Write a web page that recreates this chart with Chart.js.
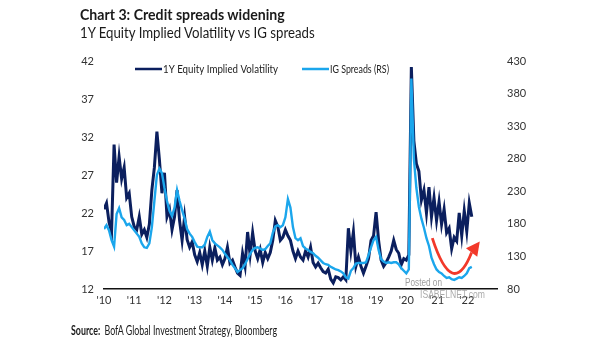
<!DOCTYPE html>
<html>
<head>
<meta charset="utf-8">
<script src="https://cdn.jsdelivr.net/npm/chart.js@4.4.1/dist/chart.umd.min.js"></script>
<style>
	html, body { margin: 0; padding: 0; background: #fff; }
	#wrap { position: relative; width: 605px; height: 341px; overflow: hidden; }
	#chart { position: absolute; left: 0; top: 0; }
	.txt { position: absolute; white-space: nowrap; color: #1a1a1a; font-family: Lato, 'Open Sans', sans-serif; line-height: 1.2; transform-origin: 0 0; }
	#title { left: 80px; top: 5px; font-size: 15.5px; font-weight: bold; }
	#subtitle { left: 80px; top: 24px; font-size: 14.5px; }
	#source { left: 71px; top: 323px; font-size: 13px; }
	#source b { margin-right: 3px; }
</style>
</head>
<body>
<div id="wrap">
	<canvas id="chart" width="605" height="341"></canvas>
	<div class="txt" id="title">Chart 3: Credit spreads widening</div>
	<div class="txt" id="subtitle">1Y Equity Implied Volatility vs IG spreads</div>
	<div class="txt" id="source"><b>Source:</b> BofA Global Investment Strategy, Bloomberg</div>
</div>
<script>
const FONT = "Lato, 'Open Sans', sans-serif"

// Monthly readings, Jan 2010 to Mar 2022.
const startYear = 2010

const equityVol = [
	22.5, 23.3, 20.8, 19.5, 31.0, 26.0, 29.4, 26.5, 28.0, 24.0, 24.6, 21.5, // 2010
	20.2, 19.8, 21.5, 19.2, 19.8, 18.8, 20.5, 25.0, 28.0, 32.7, 29.0, 24.6, // 2011
	27.3, 21.5, 22.5, 19.8, 21.5, 25.0, 21.0, 18.4, 21.5, 18.5, 17.5, 18.2, // 2012
	16.5, 15.6, 16.8, 15.2, 17.0, 15.0, 17.5, 15.8, 17.4, 15.8, 16.2, 15.2, // 2013
	16.0, 17.5, 15.4, 15.8, 14.9, 14.1, 13.8, 16.7, 15.0, 19.5, 16.5, 19.4, // 2014
	17.0, 16.0, 17.2, 15.5, 16.8, 16.0, 16.8, 18.4, 21.0, 20.2, 18.4, 18.8, // 2015
	19.8, 19.0, 18.4, 17.0, 16.0, 17.0, 16.2, 15.8, 17.0, 16.2, 17.5, 15.5, // 2016
	14.9, 15.4, 14.8, 14.3, 14.1, 14.6, 13.3, 12.8, 13.6, 13.5, 13.2, 13.6, // 2017
	13.2, 20.0, 17.0, 19.5, 15.0, 16.2, 15.0, 14.1, 15.0, 16.0, 18.4, 19.0, // 2018
	22.1, 18.4, 15.8, 15.0, 15.5, 16.2, 17.0, 18.4, 17.2, 16.7, 15.2, 16.0, // 2019
	15.8, 16.5, 41.2, 31.5, 28.5, 27.5, 23.7, 25.0, 22.0, 25.4, 21.5, 24.0, // 2020
	21.0, 23.5, 20.5, 22.5, 19.4, 20.0, 17.3, 18.8, 18.3, 22.0, 19.0, 22.3, // 2021
	19.6, 23.3, 21.5, // 2022
]

const igSpreads = [
	172, 178, 170, 155, 145, 195, 204, 190, 186, 178, 180, 175, // 2010
	170, 165, 160, 150, 144, 143, 150, 175, 215, 255, 265, 258, // 2011
	235, 215, 200, 192, 205, 232, 215, 201, 188, 172, 165, 160, // 2012
	152, 145, 144, 144, 148, 160, 168, 155, 150, 147, 144, 140, // 2013
	134, 129, 124, 117, 112, 106, 109, 112, 118, 126, 134, 140, // 2014
	143, 144, 142, 140, 141, 146, 150, 166, 176, 178, 175, 178, // 2015
	190, 218, 205, 175, 158, 155, 158, 146, 142, 140, 137, 135, // 2016
	131, 128, 124, 120, 118, 117, 114, 112, 110, 109, 107, 104, // 2017
	98, 96, 108, 112, 119, 120, 120, 120, 121, 132, 144, 155, // 2018
	160, 140, 126, 122, 120, 121, 120, 121, 121, 118, 112, 108, // 2019
	104, 110, 403, 280, 235, 206, 188, 174, 158, 146, 128, 118, // 2020
	110, 106, 104, 100, 97, 98, 95, 94, 96, 98, 97, 100, // 2021
	104, 112, 114, // 2022
]

const leftTicks = { min: 12, max: 42, step: 5 }
const rightTicks = { min: 80, max: 430, step: 50 }
const yearRange = { min: 2010, max: 2023 }

const legendItems = [
	{ label: '1Y Equity Implied Volatility', color: '#0b1f5e' },
	{ label: 'IG Spreads (RS)', color: '#1ba6ec' },
]

// Red arrow drawn in (year, IG spread) units: curve start, control, end, then the tip.
const arrowCurve = [[2020.86, 158], [2021.53, 62], [2022.16, 136]]
const arrowTip = [2022.43, 153]

const toPoints = values => values.map((v, i) => ({ x: startYear + i / 12, y: v }))

// Squeeze the heading lines to the narrow face they are set in.
const fitText = (id, width) => {
	const el = document.getElementById(id)
	el.style.transform = `scaleX(${width / el.offsetWidth})`
}
fitText('title', 205)
fitText('subtitle', 235)
fitText('source', 206)

const legendPlugin = {
	id: 'lineLegend',
	afterDraw(chart) {
		const { ctx } = chart
		const slots = [{ x: 135, w: 115 }, { x: 302, w: 59 }]
		ctx.save()
		ctx.font = `11px ${FONT}`
		ctx.textBaseline = 'middle'
		legendItems.forEach((item, i) => {
			const { x, w } = slots[i]
			ctx.strokeStyle = item.color
			ctx.lineWidth = 2.5
			ctx.beginPath()
			ctx.moveTo(x, 69)
			ctx.lineTo(x + 27, 69)
			ctx.stroke()
			ctx.fillStyle = '#222'
			ctx.fillText(item.label, x + 28, 69.5, w)
		})
		ctx.restore()
	},
}

const arrowPlugin = {
	id: 'arrow',
	afterDatasetsDraw(chart) {
		const { ctx } = chart
		const xs = chart.scales.x
		const ys = chart.scales.y1
		const pt = ([a, b]) => [xs.getPixelForValue(a), ys.getPixelForValue(b)]
		const [p0, c, p2] = arrowCurve.map(pt)
		const tip = pt(arrowTip)

		ctx.save()
		ctx.strokeStyle = '#f2392a'
		ctx.fillStyle = '#f2392a'
		ctx.lineWidth = 2.8
		ctx.beginPath()
		ctx.moveTo(p0[0], p0[1])
		ctx.quadraticCurveTo(c[0], c[1], p2[0], p2[1])
		ctx.stroke()

		// Arrowhead: triangle whose base is centred on the curve end.
		const dx = tip[0] - p2[0]
		const dy = tip[1] - p2[1]
		const len = Math.hypot(dx, dy)
		const nx = -dy / len * 7
		const ny = dx / len * 7
		ctx.beginPath()
		ctx.moveTo(tip[0], tip[1])
		ctx.lineTo(p2[0] + nx, p2[1] + ny)
		ctx.lineTo(p2[0] - nx, p2[1] - ny)
		ctx.closePath()
		ctx.fill()

		// Watermark
		ctx.font = `10px 'Liberation Sans', Arial, sans-serif`
		ctx.fillStyle = 'rgba(140,140,140,0.85)'
		ctx.textBaseline = 'middle'
		ctx.fillText('Posted on', 405, 283, 37)
		ctx.fillStyle = 'rgba(150,150,150,0.8)'
		ctx.fillText('ISABELNET.com', 420, 295, 65)
		ctx.restore()
	},
}

const tickFont = { family: FONT, size: 11 }
const noGrid = { display: false, drawTicks: false }

const chart = new Chart(document.getElementById('chart'), {
	type: 'line',
	data: {
		datasets: [
			{
				label: legendItems[1].label,
				data: toPoints(igSpreads),
				yAxisID: 'y1',
				borderColor: legendItems[1].color,
				borderWidth: 2.4,
				pointRadius: 0,
				tension: 0,
				order: 0,
			},
			{
				label: legendItems[0].label,
				data: toPoints(equityVol),
				yAxisID: 'y',
				borderColor: legendItems[0].color,
				borderWidth: 3,
				pointRadius: 0,
				tension: 0,
				order: 1,
			},
		],
	},
	options: {
		responsive: false,
		animation: false,
		layout: { padding: { top: 61, left: 0, right: 0, bottom: 0 } },
		plugins: {
			legend: { display: false },
			tooltip: { enabled: false },
		},
		scales: {
			x: {
				type: 'linear',
				min: yearRange.min,
				max: yearRange.max,
				grid: noGrid,
				border: { display: true, color: '#111', width: 1.5 },
				ticks: {
					stepSize: 1,
					autoSkip: false,
					maxRotation: 0,
					padding: 5,
					color: '#333',
					font: tickFont,
					callback: value => (value < yearRange.max ? `'${String(value).slice(2)}` : ''),
				},
				afterFit: scale => { scale.height = 52 },
			},
			y: {
				position: 'left',
				min: leftTicks.min,
				max: leftTicks.max,
				grid: noGrid,
				border: { display: false },
				ticks: { stepSize: leftTicks.step, padding: 10, color: '#333', font: tickFont },
				afterFit: scale => { scale.width = 104 },
			},
			y1: {
				position: 'right',
				min: rightTicks.min,
				max: rightTicks.max,
				grid: noGrid,
				border: { display: false },
				ticks: { stepSize: rightTicks.step, padding: 10, color: '#333', font: tickFont },
				afterFit: scale => { scale.width = 108 },
			},
		},
	},
	plugins: [legendPlugin, arrowPlugin],
})
</script>
</body>
</html>
